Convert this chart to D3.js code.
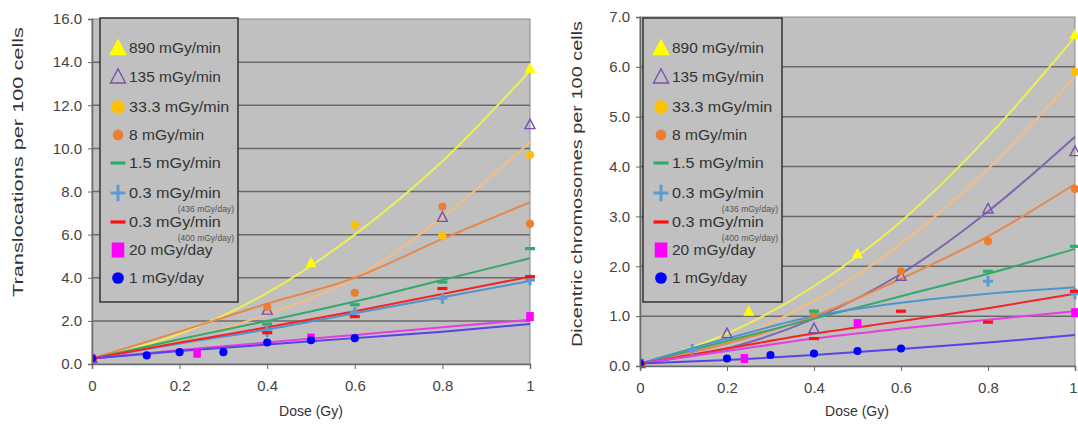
<!DOCTYPE html>
<html>
<head>
<meta charset="utf-8">
<script src="https://cdn.jsdelivr.net/npm/d3@7"></script>
<style>
  body { margin: 0; background: #fff; }
  svg { display: block; font-family: "Liberation Sans", Arial, sans-serif; }
</style>
</head>
<body>
<svg id="chart" width="1078" height="427"></svg>
<script>
// ---- data ----
const doseTicks = [0, 0.2, 0.4, 0.6, 0.8, 1];
const fitDoses = [0, 0.2, 0.4, 0.6, 0.8, 1];
const seriesKeys = ['r890', 'r135', 'r33', 'r8', 'r15', 'r03a', 'r03b', 'r20d', 'r1d'];
const legendLabels = ['890 mGy/min', '135 mGy/min', '33.3 mGy/min', '8 mGy/min', '1.5 mGy/min',
  '0.3 mGy/min', '0.3 mGy/min', '20 mGy/day', '1 mGy/day'];
const legendNotes = ['', '', '', '', '', '(436 mGy/day)', '(400 mGy/day)', '', ''];

const transTicks = [0, 2, 4, 6, 8, 10, 12, 14, 16];
const dicTicks = [0, 1, 2, 3, 4, 5, 6, 7];

// translocations: fitted curves (value at fitDoses)
const trFit890 = [0.25, 1.4, 3.3, 6.0, 9.4, 13.6];
const trFit33 = [0.25, 1.1, 2.3, 4.0, 6.8, 10.3];
const trFit8 = [0.25, 1.5, 2.8, 4.0, 5.8, 7.5];
const trFit15 = [0.25, 1.15, 2.0, 2.9, 3.9, 4.9];
const trFit03a = [0.25, 0.95, 1.6, 2.35, 3.1, 3.85];
const trFit03b = [0.25, 1.0, 1.7, 2.45, 3.25, 4.05];
const trFit20d = [0.25, 0.65, 1.0, 1.35, 1.7, 2.05];
const trFit1d = [0.25, 0.6, 0.9, 1.2, 1.5, 1.85];

// translocations: measured points [dose, value]
const trPts890 = [[0, 0.25], [0.5, 4.7], [1, 13.7]];
const trPts135 = [[0, 0.25], [0.4, 2.5], [0.8, 6.8], [1, 11.1]];
const trPts33 = [[0, 0.25], [0.6, 6.45], [0.8, 5.95], [1, 9.7]];
const trPts8 = [[0, 0.25], [0.4, 2.65], [0.6, 3.3], [0.8, 7.3], [1, 6.5]];
const trPts15 = [[0, 0.25], [0.4, 1.85], [0.6, 2.75], [0.8, 3.8], [1, 5.35]];
const trPts03a = [[0, 0.25], [0.4, 1.5], [0.6, 2.4], [0.8, 3.05], [1, 3.9]];
const trPts03b = [[0, 0.25], [0.4, 1.45], [0.6, 2.2], [0.8, 3.5], [1, 4.05]];
const trPts20d = [[0, 0.25], [0.24, 0.5], [0.5, 1.2], [1, 2.2]];
const trPts1d = [[0, 0.25], [0.125, 0.4], [0.2, 0.55], [0.3, 0.55], [0.4, 1.0], [0.5, 1.1], [0.6, 1.2]];

// dicentrics: fitted curves
const dcFit890 = [0.05, 0.65, 1.6, 2.9, 4.6, 6.6];
const dcFit135 = [0.05, 0.35, 0.95, 1.85, 3.1, 4.6];
const dcFit33 = [0.05, 0.5, 1.3, 2.45, 3.95, 5.8];
const dcFit8 = [0.05, 0.45, 1.0, 1.75, 2.6, 3.65];
const dcFit15 = [0.05, 0.5, 0.95, 1.4, 1.85, 2.35];
const dcFit03a = [0.05, 0.55, 1.0, 1.27, 1.45, 1.58];
const dcFit03b = [0.05, 0.35, 0.65, 0.9, 1.16, 1.45];
const dcFit20d = [0.05, 0.3, 0.55, 0.75, 0.93, 1.1];
const dcFit1d = [0.05, 0.12, 0.22, 0.34, 0.47, 0.62];

// dicentrics: measured points
const dcPts890 = [[0, 0.05], [0.25, 1.1], [0.5, 2.25], [1, 6.65]];
const dcPts135 = [[0, 0.05], [0.2, 0.65], [0.4, 0.75], [0.6, 1.8], [0.8, 3.15], [1, 4.3]];
const dcPts33 = [[0, 0.05], [1, 5.9]];
const dcPts8 = [[0, 0.05], [0.4, 1.05], [0.6, 1.9], [0.8, 2.5], [1, 3.55]];
const dcPts15 = [[0, 0.05], [0.4, 1.1], [0.8, 1.9], [1, 2.4]];
const dcPts03a = [[0, 0.05], [0.12, 0.33], [0.8, 1.7], [1, 1.45]];
const dcPts03b = [[0, 0.05], [0.4, 0.55], [0.6, 1.1], [0.8, 0.88], [1, 1.5]];
const dcPts20d = [[0, 0.05], [0.24, 0.15], [0.5, 0.85], [1, 1.07]];
const dcPts1d = [[0, 0.05], [0.2, 0.15], [0.3, 0.22], [0.4, 0.25], [0.5, 0.3], [0.6, 0.35]];

// ---- styles ----
const markerType = { r890: 'tri', r135: 'triOpen', r33: 'circle', r8: 'circle', r15: 'dash',
  r03a: 'plus', r03b: 'dash', r20d: 'square', r1d: 'circle' };
const markerColor = { r890: '#ffff00', r135: '#7a4fb0', r33: '#ffc000', r8: '#ed7d31', r15: '#2fae6a',
  r03a: '#5b9bd5', r03b: '#ff1010', r20d: '#ff00ff', r1d: '#0000ff' };
const lineColor = { r890: '#eeee55', r135: '#8064b4', r33: '#f5bc80', r8: '#e8874a', r15: '#35a86e',
  r03a: '#4e94cc', r03b: '#f42424', r20d: '#e23ee2', r1d: '#5544e6' };

const panels = [
  {
    x0: 92, x1: 530, y0: 364, y1: 19, ymax: 16, ticks: transTicks,
    title: 'Translocations per 100 cells', titleX: 18, titleY: 162, titleLen: 270,
    legend: { x: 100, y: 18, w: 138, h: 284 },
    fits: { r890: trFit890, r33: trFit33, r8: trFit8, r15: trFit15, r03a: trFit03a, r03b: trFit03b, r20d: trFit20d, r1d: trFit1d },
    pts: { r890: trPts890, r135: trPts135, r33: trPts33, r8: trPts8, r15: trPts15, r03a: trPts03a, r03b: trPts03b, r20d: trPts20d, r1d: trPts1d },
    doseX: 311
  },
  {
    x0: 640, x1: 1075, y0: 366, y1: 17, ymax: 7, ticks: dicTicks,
    title: 'Dicentric chromosomes per 100 cells', titleX: 577, titleY: 184, titleLen: 326,
    legend: { x: 643, y: 18, w: 139, h: 284 },
    fits: { r890: dcFit890, r135: dcFit135, r33: dcFit33, r8: dcFit8, r15: dcFit15, r03a: dcFit03a, r03b: dcFit03b, r20d: dcFit20d, r1d: dcFit1d },
    pts: { r890: dcPts890, r135: dcPts135, r33: dcPts33, r8: dcPts8, r15: dcPts15, r03a: dcPts03a, r03b: dcPts03b, r20d: dcPts20d, r1d: dcPts1d },
    doseX: 857
  }
];

const svg = d3.select('#chart');

function drawMarker(g, type, color, s) {
  if (type === 'tri') {
    g.append('path').attr('d', `M0,${-s * 0.6}L${s * 0.55},${s * 0.45}L${-s * 0.55},${s * 0.45}Z`).attr('fill', color);
  } else if (type === 'triOpen') {
    g.append('path').attr('d', `M0,${-s * 0.55}L${s * 0.5},${s * 0.4}L${-s * 0.5},${s * 0.4}Z`)
      .attr('fill', 'none').attr('stroke', color).attr('stroke-width', 1.4);
  } else if (type === 'circle') {
    g.append('circle').attr('r', s * 0.45).attr('fill', color);
  } else if (type === 'square') {
    g.append('rect').attr('x', -s * 0.42).attr('y', -s * 0.5).attr('width', s * 0.84).attr('height', s)
      .attr('fill', color);
  } else if (type === 'dash') {
    g.append('rect').attr('x', -s * 0.5).attr('y', -1.6).attr('width', s).attr('height', 3.2).attr('fill', color);
  } else if (type === 'plus') {
    g.append('path').attr('d', `M${-s * 0.5},0H${s * 0.5}M0,${-s * 0.55}V${s * 0.55}`)
      .attr('stroke', color).attr('stroke-width', 3);
  }
}

panels.forEach((p, pi) => {
  const x = d3.scaleLinear().domain([0, 1]).range([p.x0, p.x1]);
  const y = d3.scaleLinear().domain([0, p.ymax]).range([p.y0, p.y1]);
  const g = svg.append('g');

  // plot area
  g.append('rect')
    .attr('x', p.x0).attr('y', p.y1)
    .attr('width', p.x1 - p.x0).attr('height', p.y0 - p.y1)
    .attr('fill', '#c0c0c0').attr('stroke', '#8c8c8c').attr('stroke-width', 1);

  // gridlines
  g.append('g').selectAll('line')
    .data(p.ticks.filter(t => t > 0 && t < p.ymax))
    .join('line')
    .attr('x1', p.x0).attr('x2', p.x1)
    .attr('y1', d => y(d)).attr('y2', d => y(d))
    .attr('stroke', '#6a6a6a').attr('stroke-width', 1.5);

  // legend box (covers gridlines)
  const L = p.legend;
  g.append('rect')
    .attr('x', L.x).attr('y', L.y).attr('width', L.w).attr('height', L.h)
    .attr('fill', '#c0c0c0').attr('stroke', '#333').attr('stroke-width', 1.5);

  const rowOff = [30, 59, 89, 117, 145, 175, 204, 232, 260];
  const legendSize = { tri: 16, triOpen: 15, circle: 15, dash: 15, plus: 15, square: 15 };
  seriesKeys.forEach((k, i) => {
    const ry = L.y + rowOff[i];
    let s = legendSize[markerType[k]];
    if (k === 'r8') s = 12;
    if (k === 'r1d') s = 13;
    const mg = g.append('g').attr('transform', `translate(${L.x + 18},${ry})`);
    drawMarker(mg, markerType[k], markerColor[k], s);
    g.append('text')
      .attr('x', L.x + 29).attr('y', ry).attr('dy', '0.35em')
      .attr('font-size', 14).attr('fill', '#333')
      .attr('textLength', legendLabels[i].length * 8.35).attr('lengthAdjust', 'spacingAndGlyphs')
      .text(legendLabels[i]);
    if (legendNotes[i]) {
      g.append('text')
        .attr('x', L.x + L.w - 4).attr('y', ry + 16).attr('dy', '0.35em')
        .attr('text-anchor', 'end').attr('font-size', 8.5).attr('fill', '#555')
        .text(legendNotes[i]);
    }
  });

  // clip for data
  const clipId = `clip-${pi}`;
  svg.append('defs').append('clipPath').attr('id', clipId)
    .append('rect').attr('x', p.x0).attr('y', p.y1 - 6).attr('width', p.x1 - p.x0 + 6).attr('height', p.y0 - p.y1 + 12);
  const data = g.append('g').attr('clip-path', `url(#${clipId})`);

  const line = d3.line()
    .x((d, i) => x(fitDoses[i]))
    .y(d => y(d))
    .curve(d3.curveMonotoneX);

  seriesKeys.forEach(k => {
    if (!p.fits[k]) return;
    data.append('path')
      .attr('d', line(p.fits[k]))
      .attr('fill', 'none')
      .attr('stroke', lineColor[k])
      .attr('stroke-width', 2);
  });

  seriesKeys.forEach(k => {
    const ms = { tri: 10, triOpen: 10, circle: 9, dash: 10, plus: 10, square: 9 }[markerType[k]];
    data.append('g').selectAll('g')
      .data(p.pts[k])
      .join('g')
      .attr('transform', d => `translate(${x(d[0])},${y(d[1])})`)
      .each(function () { drawMarker(d3.select(this), markerType[k], markerColor[k], ms); });
  });

  // axes
  const yAxis = d3.axisLeft(y).tickValues(p.ticks).tickFormat(d3.format('.1f')).tickSize(4).tickPadding(6);
  const ya = g.append('g').attr('transform', `translate(${p.x0},0)`).call(yAxis);
  const xAxis = d3.axisBottom(x).tickValues(doseTicks).tickFormat(d => d === 0 || d === 1 ? d3.format('d')(d) : d3.format('.1f')(d))
    .tickSize(5).tickPadding(11);
  const xa = g.append('g').attr('transform', `translate(0,${p.y0})`).call(xAxis);
  [ya, xa].forEach(a => {
    a.select('.domain').attr('stroke', '#6a6a6a').attr('stroke-width', 1.5);
    a.selectAll('.tick line').attr('stroke', '#6a6a6a');
    a.selectAll('.tick text').attr('font-size', 15).attr('fill', '#444')
      .attr('font-family', '"Liberation Sans", Arial, sans-serif');
  });
  // keep the last dose label inside the page on the right panel
  if (pi === 1) {
    xa.selectAll('.tick text').filter(d => d === 1).attr('text-anchor', 'end').attr('dx', 2);
  }

  // axis titles
  g.append('text')
    .attr('transform', `translate(${p.titleX},${p.titleY}) rotate(-90)`)
    .attr('text-anchor', 'middle').attr('dy', '0.35em')
    .attr('font-size', 14).attr('fill', '#333')
    .attr('textLength', p.titleLen).attr('lengthAdjust', 'spacingAndGlyphs')
    .text(p.title);
  g.append('text')
    .attr('x', p.doseX).attr('y', 411).attr('dy', '0.35em')
    .attr('text-anchor', 'middle').attr('font-size', 14).attr('fill', '#333')
    .text('Dose (Gy)');
});
</script>
</body>
</html>
